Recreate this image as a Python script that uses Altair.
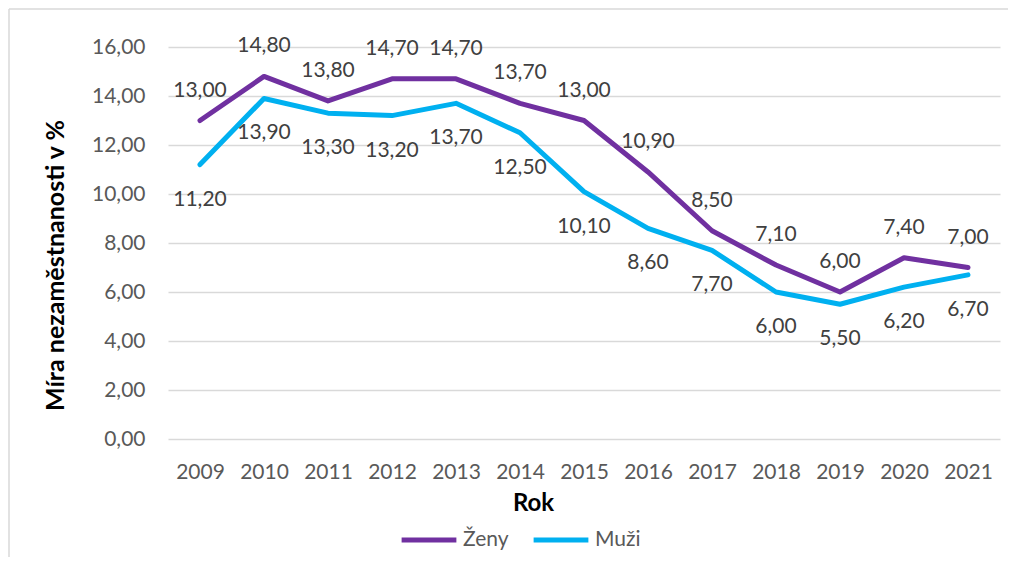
import altair as alt
import pandas as pd

roky = ["2009", "2010", "2011", "2012", "2013", "2014", "2015", "2016", "2017", "2018", "2019", "2020", "2021"]
zeny = [13.0, 14.8, 13.8, 14.7, 14.7, 13.7, 13.0, 10.9, 8.5, 7.1, 6.0, 7.4, 7.0]
muzi = [11.2, 13.9, 13.3, 13.2, 13.7, 12.5, 10.1, 8.6, 7.7, 6.0, 5.5, 6.2, 6.7]
serie = ["Ženy", "Muži"]
barvy = ["#7030A0", "#00B0F0"]
y_ticks = [0, 2, 4, 6, 8, 10, 12, 14, 16]

rows = []
for r, z, m in zip(roky, zeny, muzi):
    rows.append({"rok": r, "serie": "Ženy", "hodnota": z})
    rows.append({"rok": r, "serie": "Muži", "hodnota": m})
df = pd.DataFrame(rows)

FONT = "Lato"
W, H = 832, 392
PAD = {"left": 160, "top": 39, "right": 8, "bottom": 118}

x_enc = alt.X(
    "rok:O",
    sort=roky,
    scale=alt.Scale(type="point", padding=0.5),
    axis=alt.Axis(
        title="Rok", labelAngle=0, domain=False, ticks=False, tickSize=0, grid=False,
        labelPadding=22, labelFont=FONT, labelFontSize=21, labelColor="#595959",
        titleFont=FONT, titleFontSize=24, titleFontWeight="bold", titleColor="#000000",
        titleX=365, titleY=64, titleAlign="center", titleBaseline="middle",
    ),
)
y_enc = alt.Y(
    "hodnota:Q",
    scale=alt.Scale(domain=[0, 16], nice=False, zero=True),
    axis=alt.Axis(
        title="Míra nezaměstnanosti v %", values=y_ticks,
        labelExpr="replace(format(datum.value, '.2f'), '.', ',')",
        domain=False, ticks=False, tickSize=0, grid=True, gridColor="#d9d9d9", gridWidth=1.5,
        labelPadding=23, labelFont=FONT, labelFontSize=21, labelColor="#595959",
        titleFont=FONT, titleFontSize=25, titleFontWeight="bold", titleColor="#000000",
        titleX=-113, titleY=218, titleAngle=270, titleAlign="center", titleBaseline="middle",
    ),
)

base = alt.Chart(df).encode(x=x_enc, y=y_enc)

lines = base.mark_line(strokeWidth=5, strokeCap="round", strokeJoin="round").encode(
    color=alt.Color(
        "serie:N",
        scale=alt.Scale(domain=serie, range=barvy),
        sort=serie,
        legend=alt.Legend(
            title=None, orient="none", direction="horizontal", legendX=231, legendY=463,
            symbolType="stroke", symbolSize=3000, symbolStrokeWidth=5,
            labelFont=FONT, labelFontSize=21, labelColor="#595959", labelOffset=4,
            columnPadding=14, padding=0,
        ),
    )
)

lab_expr = "replace(format(datum.hodnota, '.2f'), '.', ',')"
labels_z = base.transform_filter(alt.datum.serie == "Ženy").transform_calculate(
    lab=lab_expr
).mark_text(dy=-30, font=FONT, fontSize=21, color="#404040").encode(text="lab:N")
labels_m = base.transform_filter(alt.datum.serie == "Muži").transform_calculate(
    lab=lab_expr
).mark_text(dy=35, font=FONT, fontSize=21, color="#404040").encode(text="lab:N")

frame_df = pd.DataFrame({"a": [0]})
border_top = alt.Chart(frame_df).mark_rule(color="#d9d9d9", strokeWidth=1.5).encode(
    x=alt.value(-159), x2=alt.value(860), y=alt.value(-38)
)
border_left = alt.Chart(frame_df).mark_rule(color="#d9d9d9", strokeWidth=1.5).encode(
    x=alt.value(-159), y=alt.value(-38), y2=alt.value(H + PAD["bottom"] + 5)
)

chart = alt.layer(border_top, border_left, lines, labels_z, labels_m).properties(
    width=W, height=H,
    autosize=alt.AutoSizeParams(type="none"),
    padding=PAD,
    background="white",
).configure_view(strokeWidth=0)

chart.save("out.html", embed_options={"renderer": "svg", "actions": False})
